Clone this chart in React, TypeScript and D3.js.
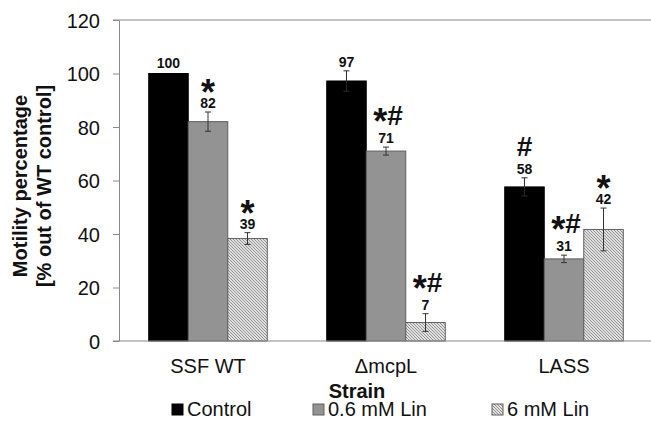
import { useEffect, useRef } from "react";
import * as d3 from "d3";

// ---- data ----
const STRAINS = ["SSF WT", "ΔmcpL", "LASS"];
const SERIES = ["Control", "0.6 mM Lin", "6 mM Lin"];
const CONTROL = [100, 97.2, 57.6];
const LIN_LOW = [82, 71, 30.7];
const LIN_HIGH = [38.3, 6.9, 41.7];
const ERR_CONTROL = [0, 3.8, 3.4];
const ERR_LOW = [3.6, 1.5, 1.4];
const ERR_HIGH = [2.2, 3.3, 8];
const LABEL_CONTROL = ["100", "97", "58"];
const LABEL_LOW = ["82", "71", "31"];
const LABEL_HIGH = ["39", "7", "42"];
const SIG_CONTROL = ["", "", "#"];
const SIG_LOW = ["*", "*#", "*#"];
const SIG_HIGH = ["*", "*#", "*"];
const Y_TICKS = [0, 20, 40, 60, 80, 100, 120];

const W = 651, H = 430;
const PLOT = { left: 119, right: 653, top: 20, bottom: 341 };
const FONT = "'Liberation Sans', Arial, Helvetica, sans-serif";
const AXIS = "#8a8a8a";

const FILLS = ["#000000", "#939393", "url(#hatch)"];
const STROKES = ["#000000", "#5e5e5e", "#5e5e5e"];
const LEGEND_X = [172, 313, 492];

export default function App() {
  const svgRef = useRef<SVGSVGElement>(null);

  useEffect(() => {
    document.body.style.margin = "0";
    const svg = d3.select(svgRef.current);
    svg.selectAll("*").remove();

    const defs = svg.append("defs");
    const pat = defs.append("pattern").attr("id", "hatch")
      .attr("patternUnits", "userSpaceOnUse").attr("width", 3).attr("height", 3);
    pat.append("rect").attr("width", 3).attr("height", 3).attr("fill", "#e0e0e0");
    pat.append("path").attr("d", "M-1,-1 L4,4 M-1,2 L1,4 M2,-1 L4,1")
      .attr("stroke", "#808080").attr("stroke-width", 0.8);

    const values = [CONTROL, LIN_LOW, LIN_HIGH];
    const errs = [ERR_CONTROL, ERR_LOW, ERR_HIGH];
    const labels = [LABEL_CONTROL, LABEL_LOW, LABEL_HIGH];
    const sigs = [SIG_CONTROL, SIG_LOW, SIG_HIGH];

    const x = d3.scaleBand().domain(STRAINS).range([PLOT.left, PLOT.right])
      .paddingInner(0.334).paddingOuter(0.167);
    const xs = d3.scaleBand().domain(SERIES).range([0, x.bandwidth()]);
    const y = d3.scaleLinear().domain([0, 120]).range([PLOT.bottom, PLOT.top]);

    // top gridline at 120
    svg.append("line").attr("x1", PLOT.left - 6).attr("x2", W)
      .attr("y1", y(120)).attr("y2", y(120)).attr("stroke", AXIS).attr("stroke-width", 1.2);

    // y axis
    const yAxis = svg.append("g").attr("transform", `translate(${PLOT.left},0)`)
      .call(d3.axisLeft(y).tickValues(Y_TICKS).tickSize(6).tickPadding(13).tickSizeOuter(0));
    yAxis.select(".domain").attr("stroke", AXIS);
    yAxis.selectAll(".tick line").attr("stroke", AXIS);
    yAxis.selectAll("text").attr("font-family", FONT).attr("font-size", 20).attr("fill", "#111")
      .attr("dy", "0.35em");

    // bars
    const barG = svg.append("g");
    STRAINS.forEach((s, i) => {
      SERIES.forEach((ser, k) => {
        const v = values[k][i];
        const bx = (x(s) as number) + (xs(ser) as number);
        const bw = xs.bandwidth();
        barG.append("rect").attr("x", bx).attr("y", y(v))
          .attr("width", bw).attr("height", y(0) - y(v))
          .attr("fill", FILLS[k]).attr("stroke", STROKES[k]).attr("stroke-width", 1);
      });
    });

    // x axis line
    svg.append("line").attr("x1", PLOT.left - 6).attr("x2", W)
      .attr("y1", y(0)).attr("y2", y(0)).attr("stroke", AXIS).attr("stroke-width", 1.2);

    // error bars, labels, significance markers
    const annG = svg.append("g");
    STRAINS.forEach((s, i) => {
      SERIES.forEach((ser, k) => {
        const v = values[k][i], e = errs[k][i];
        const cx = (x(s) as number) + (xs(ser) as number) + xs.bandwidth() / 2;
        if (e > 0) {
          const eColor = k === 0 ? "#2a2a2a" : "#333";
          annG.append("line").attr("x1", cx).attr("x2", cx)
            .attr("y1", y(v + e)).attr("y2", y(v - e)).attr("stroke", eColor);
          [v + e, v - e].forEach(t => annG.append("line")
            .attr("x1", cx - 3).attr("x2", cx + 3).attr("y1", y(t)).attr("y2", y(t))
            .attr("stroke", eColor));
        }
        const lb = y(v + e) - (e > 0 ? 4 : 6);
        annG.append("text").attr("x", cx).attr("y", lb).attr("text-anchor", "middle")
          .attr("font-family", FONT).attr("font-weight", "bold").attr("font-size", 14)
          .attr("fill", "#111").text(labels[k][i]);

        const sig = sigs[k][i];
        if (!sig) return;
        const base = { "font-family": FONT, "font-weight": "bold", fill: "#111" };
        if (sig === "*") {
          const t = annG.append("text").attr("x", cx).attr("y", lb - 3)
            .attr("text-anchor", "middle").attr("font-size", 36).text("*");
          Object.entries(base).forEach(([a, val]) => t.attr(a, val));
        } else {
          const mb = lb - 18;
          const t = annG.append("text").attr("x", cx + (sig.length > 1 ? 2 : 0)).attr("y", mb)
            .attr("text-anchor", "middle");
          Object.entries(base).forEach(([a, val]) => t.attr(a, val));
          let cur = 0;
          sig.split("").forEach(ch => {
            if (ch === "*") {
              // asterisk sits high in the font, pull it down to the # mid-line
              t.append("tspan").attr("font-size", 36).attr("dy", 9 - cur).text("*");
              cur = 9;
            } else {
              t.append("tspan").attr("font-size", 28).attr("dy", 0 - cur).text(ch);
              cur = 0;
            }
          });
        }
      });
    });

    // category labels
    STRAINS.forEach(s => {
      svg.append("text").attr("x", (x(s) as number) + x.bandwidth() / 2).attr("y", 373)
        .attr("text-anchor", "middle").attr("font-family", FONT).attr("font-size", 20)
        .attr("fill", "#111").text(s);
    });

    // axis titles
    svg.append("text").attr("x", 357).attr("y", 398).attr("text-anchor", "middle")
      .attr("font-family", FONT).attr("font-weight", "bold").attr("font-size", 20)
      .attr("fill", "#111").text("Strain");

    const yt = svg.append("text").attr("transform", "translate(0,186) rotate(-90)")
      .attr("text-anchor", "middle").attr("font-family", FONT).attr("font-weight", "bold")
      .attr("font-size", 20).attr("fill", "#111");
    yt.append("tspan").attr("x", 0).attr("y", 27).text("Motility percentage");
    yt.append("tspan").attr("x", 0).attr("y", 51).text("[% out of WT control]");

    // legend
    SERIES.forEach((ser, k) => {
      const lx = LEGEND_X[k];
      svg.append("rect").attr("x", lx).attr("y", 404).attr("width", 11).attr("height", 11)
        .attr("fill", FILLS[k]).attr("stroke", STROKES[k]);
      svg.append("text").attr("x", lx + 15).attr("y", 416).attr("font-family", FONT)
        .attr("font-size", 20).attr("fill", "#111").text(ser);
    });
  }, []);

  return (
    <div style={{ width: W, height: H, background: "#fff" }}>
      <svg ref={svgRef} width={W} height={H} style={{ display: "block" }} />
    </div>
  );
}
